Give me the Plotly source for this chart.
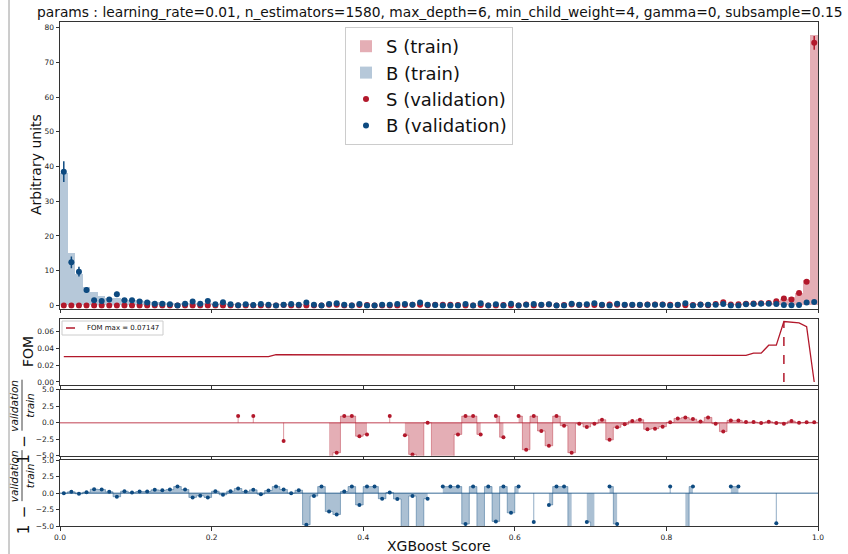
import plotly.graph_objects as go

# ---------------- data ----------------
bin_edges = [i / 100 for i in range(101)]
bin_centers = [(bin_edges[i] + bin_edges[i + 1]) / 2 for i in range(100)]

s_train = [
    0, 0, 0, 0, 0, 0, 0, 0, 0, 0,
    0, 0, 0, 0, 0, 0, 0, 0, 0, 0,
    0, 0, 0, 0.03, 0, 0.03, 0, 0, 0, 0.03,
    0, 0, 0, 0, 0, 0.02, 0.03, 0.03, 0.03, 0.03,
    0.04, 0, 0, 0.03, 0, 0.04, 0.03, 0.02, 0.05, 0.02,
    0.02, 0.02, 0.04, 0.04, 0.04, 0.04, 0, 0.05, 0.04, 0,
    0.05, 0.05, 0.05, 0.06, 0.05, 0.06, 0.07, 0.05, 0.08, 0.08,
    0.09, 0.10, 0.08, 0.10, 0.12, 0.13, 0.14, 0.13, 0.15, 0.17,
    0.20, 0.22, 0.24, 0.27, 0.30, 0.33, 0.36, 0.38, 0.42, 0.48,
    0.55, 0.62, 0.60, 0.80, 1.15, 1.75, 2.30, 3.60, 7.20, 77.8]

s_val = [
    0, 0, 0, 0, 0, 0, 0, 0, 0, 0,
    0, 0, 0, 0, 0, 0, 0, 0, 0, 0,
    0, 0, 0, 0, 0, 0, 0, 0, 0, 0.11,
    0, 0, 0, 0, 0, 0.16, 0.17, 0, 0, 0.09,
    0.11, 0, 0, 0, 0, 0.12, 0.17, 0.16, 0.05, 0.16,
    0.16, 0.16, 0.11, 0, 0, 0.11, 0, 0, 0.13, 0,
    0, 0.25, 0, 0.14, 0.23, 0, 0.10, 0.28, 0.09, 0.13,
    0.10, 0.06, 0.29, 0.17, 0.15, 0.10, 0.08, 0.26, 0.29, 0.27,
    0.19, 0.08, 0.05, 0.12, 0.24, 0.07, 0.41, 0.89, 0.27, 0.31,
    0.50, 0.56, 0.63, 0.68, 1.20, 2.00, 1.70, 3.60, 6.80, 75.6]

s_err = [
    0, 0, 0, 0, 0, 0, 0, 0, 0, 0,
    0, 0, 0, 0, 0, 0, 0, 0, 0, 0,
    0, 0, 0, 0, 0, 0, 0, 0, 0, 0.1,
    0, 0, 0, 0, 0, 0.1, 0.1, 0, 0, 0.1,
    0.1, 0, 0, 0, 0, 0.1, 0.1, 0.1, 0.05, 0.1,
    0.1, 0.1, 0.1, 0, 0, 0.1, 0, 0, 0.1, 0,
    0, 0.12, 0, 0.1, 0.12, 0, 0.1, 0.13, 0.08, 0.1,
    0.08, 0.06, 0.13, 0.1, 0.1, 0.08, 0.07, 0.12, 0.13, 0.12,
    0.1, 0.07, 0.05, 0.08, 0.12, 0.07, 0.15, 0.22, 0.12, 0.13,
    0.16, 0.17, 0.18, 0.19, 0.26, 0.35, 0.3, 0.45, 0.65, 2.0]

b_train = [
    38.0, 15.2, 8.9, 5.2, 4.0, 2.7, 2.2, 2.0, 1.9, 1.6,
    1.5, 1.2, 1.0, 0.9, 0.8, 0.75, 0.7, 0.65, 0.55, 0.8,
    0.45, 0.7, 0.45, 0.35, 0.4, 0.3, 0.35, 0.33, 0.3, 0.35,
    0.4, 0.3, 0.14, 0.14, 0.2, 0.1, 0.14, 0.25, 0.2, 0.14,
    0.15, 0.15, 0.11, 0.2, 0.2, 0.05, 0.14, 0.1, 0.11, 0,
    0.1, 0.1, 0.1, 0.07, 0.1, 0.075, 0.1, 0.065, 0.1, 0.11,
    0.1, 0, 0.075, 0, 0.11, 0.1, 0.1, 0.06, 0, 0.065,
    0.075, 0, 0.08, 0.08, 0, 0, 0, 0, 0, 0,
    0.05, 0, 0.075, 0.05, 0, 0, 0, 0, 0.05, 0.05,
    0, 0, 0, 0, 0.07, 0, 0, 0, 0, 0]

b_val = [
    38.5, 12.4, 9.7, 4.4, 1.5, 1.3, 1.7, 3.2, 1.5, 1.5,
    1.1, 0.8, 0.5, 0.5, 0.35, 0, 0.45, 1.1, 0.5, 1.3,
    0.3, 0.9, 0.3, 0.05, 0.3, 0.15, 0.4, 0.2, 0, 0.2,
    0.4, 0.2, 0.8, 0.2, 0, 0.4, 0.6, 0.2, 0, 0.4,
    0, 0, 0.2, 0.2, 0.4, 0.4, 0.2, 0.8, 0.2, 0.1,
    0, 0, 0, 0.4, 0, 0.6, 0, 0.35, 0, 0.45,
    0, 0.2, 0.4, 0.2, 0.3, 0, 0, 0.5, 0.2, 0.35,
    0.6, 0.2, 0, 0.45, 0.2, 0.2, 0.2, 0.2, 0.2, 0.2,
    0, 0.2, 0.6, 0, 0.2, 0.2, 0.2, 0.4, 0, 0,
    0.3, 0.4, 0.5, 0.5, 0.4, 0.1, 0.05, 0.1, 0.8, 1.0]

b_err = [
    3.0, 1.7, 1.4, 0.8, 0.5, 0.45, 0.5, 0.7, 0.5, 0.5,
    0.4, 0.35, 0.3, 0.3, 0.25, 0, 0.25, 0.4, 0.25, 0.4,
    0.2, 0.35, 0.2, 0.1, 0.2, 0.15, 0.2, 0.15, 0, 0.15,
    0.2, 0.15, 0.3, 0.15, 0, 0.2, 0.25, 0.15, 0, 0.2,
    0, 0, 0.15, 0.15, 0.2, 0.2, 0.15, 0.3, 0.15, 0.1,
    0, 0, 0, 0.2, 0, 0.25, 0, 0.2, 0, 0.2,
    0, 0.15, 0.2, 0.15, 0.2, 0, 0, 0.2, 0.15, 0.2,
    0.25, 0.15, 0, 0.2, 0.15, 0.15, 0.15, 0.15, 0.15, 0.15,
    0, 0.15, 0.25, 0, 0.15, 0.15, 0.15, 0.2, 0, 0,
    0.2, 0.2, 0.2, 0.2, 0.2, 0.1, 0.05, 0.1, 0.3, 0.3]

fom = [
    0.030, 0.030, 0.030, 0.030, 0.030, 0.030, 0.030, 0.030, 0.030, 0.030,
    0.030, 0.030, 0.030, 0.030, 0.030, 0.030, 0.030, 0.030, 0.030, 0.030,
    0.030, 0.030, 0.030, 0.030, 0.030, 0.030, 0.030, 0.030, 0.0322, 0.0322,
    0.0322, 0.0322, 0.0322, 0.0322, 0.0322, 0.0322, 0.0322, 0.0322, 0.0322, 0.0322,
    0.0322, 0.0319, 0.0319, 0.0319, 0.0319, 0.0319, 0.0319, 0.0319, 0.0319, 0.0319,
    0.0319, 0.0319, 0.0319, 0.0319, 0.0319, 0.0319, 0.0319, 0.0319, 0.0319, 0.0319,
    0.0318, 0.0318, 0.0318, 0.0318, 0.0318, 0.0318, 0.0318, 0.0318, 0.0318, 0.0318,
    0.0317, 0.0317, 0.0317, 0.0317, 0.0317, 0.0317, 0.0317, 0.0317, 0.0317, 0.0317,
    0.0315, 0.0315, 0.0315, 0.0315, 0.0315, 0.0315, 0.0315, 0.0315, 0.0315, 0.0315,
    0.0314, 0.0340, 0.0340, 0.0435, 0.0435, 0.07147, 0.0707, 0.0698, 0.0655, 0.0]

s_ratio = [
    None, None, None, None, None, None, None, None, None, None,
    None, None, None, None, None, None, None, None, None, None,
    None, None, None, 1.0, None, 1.0, None, None, None, -2.78,
    None, None, None, None, None, -7.0, -4.55, 1.0, 1.0, -2.05,
    -1.77, None, None, 1.0, None, -1.9, -4.8, -7.0, 0.0, -7.0,
    -7.0, -7.0, -1.77, 1.0, 1.0, -1.77, None, 1.0, -2.2, None,
    1.0, -4.1, 1.0, -1.26, -3.5, 1.0, -0.45, -4.55, -0.15, -0.65,
    -0.15, 0.45, -2.6, -0.7, -0.25, 0.25, 0.45, -1.0, -0.9, -0.6,
    0.05, 0.65, 0.8, 0.55, 0.2, 0.8, -0.15, -1.35, 0.35, 0.35,
    0.1, 0.1, -0.05, 0.15, -0.05, -0.15, 0.25, 0.0, 0.05, 0.05]

b_ratio = [
    0.0, 0.2, -0.1, 0.15, 0.6, 0.55, 0.2, -0.55, 0.3, 0.1,
    0.25, 0.25, 0.5, 0.45, 0.55, 1.0, 0.55, -0.65, -0.4, -0.65,
    0.3, -0.25, 0.3, 0.7, 0.25, 0.5, -0.15, 0.4, 1.0, 0.55,
    0.0, 0.45, -4.8, -0.45, 1.0, -2.8, -3.25, 0.25, 1.0, -1.8,
    1.0, 1.0, -0.85, 0.1, -0.9, -7.0, -0.45, -7.0, -0.85, None,
    1.0, 1.0, 1.0, -4.7, 1.0, -7.0, 1.0, -4.3, 1.0, -3.0,
    1.0, None, -4.4, None, -1.8, 1.0, 1.0, -7.0, None, -4.4,
    -7.0, None, 1.0, -4.7, None, None, None, None, None, None,
    1.0, None, -7.0, 1.0, None, None, None, None, 1.0, 1.0,
    None, None, None, None, -4.6, None, None, None, None, None]

title_text = ("params : learning_rate=0.01, n_estimators=1580, max_depth=6, "
              "min_child_weight=4, gamma=0, subsample=0.15")
x_ticks = [0.0, 0.2, 0.4, 0.6, 0.8, 1.0]

# ---------------- style / layout helpers ----------------
S_COL = (178, 24, 43)
B_COL = (13, 74, 128)


def rgba(c, a):
    return "rgba(%d,%d,%d,%s)" % (c[0], c[1], c[2], a)


W, H = 848, 554
L, R, T, B = 60, 30, 22, 28
PW, PH = W - L - R, H - T - B


def fx(px):
    return (px - L) / PW


def fy(py):
    return (H - B - py) / PH


FONT = "DejaVu Sans"

fig = go.Figure()

# ---------------- main panel ----------------
fig.add_trace(go.Bar(x=bin_centers, y=s_train, width=0.01, name="S (train)",
                     marker=dict(color=rgba(S_COL, 0.35), line=dict(width=0)),
                     xaxis="x", yaxis="y"))
fig.add_trace(go.Bar(x=bin_centers, y=b_train, width=0.01, name="B (train)",
                     marker=dict(color=rgba(B_COL, 0.3), line=dict(width=0)),
                     xaxis="x", yaxis="y"))
fig.add_trace(go.Scatter(x=bin_centers, y=s_val, mode="markers", name="S (validation)",
                         marker=dict(color=rgba(S_COL, 1), size=6),
                         error_y=dict(type="data", array=s_err, color=rgba(S_COL, 1),
                                      thickness=1.5, width=0),
                         xaxis="x", yaxis="y"))
fig.add_trace(go.Scatter(x=bin_centers, y=b_val, mode="markers", name="B (validation)",
                         marker=dict(color=rgba(B_COL, 1), size=6),
                         error_y=dict(type="data", array=b_err, color=rgba(B_COL, 1),
                                      thickness=1.5, width=0),
                         xaxis="x", yaxis="y"))

# ---------------- FOM panel ----------------
fig.add_trace(go.Scatter(x=bin_centers, y=fom, mode="lines", showlegend=False,
                         line=dict(color=rgba(S_COL, 1), width=1.3),
                         xaxis="x2", yaxis="y2"))
imax = max(range(len(fom)), key=lambda i: fom[i])
fom_label = "FOM max = %.5f" % fom[imax]
fig.add_trace(go.Scatter(x=[bin_centers[imax], bin_centers[imax]], y=[0, fom[imax]],
                         mode="lines", name=fom_label, showlegend=False,
                         line=dict(color=rgba(S_COL, 1), width=1.5, dash="dash"),
                         xaxis="x2", yaxis="y2"))


# ---------------- ratio panels ----------------
def add_ratio(vals, col, xa, ya):
    fig.add_trace(go.Scatter(x=[bin_edges[0], bin_edges[-1]], y=[0, 0], mode="lines",
                             showlegend=False, line=dict(color=rgba(col, 0.55), width=1.5),
                             xaxis=xa, yaxis=ya, hoverinfo="skip"))
    runs, cur = [], []
    for i, v in enumerate(vals):
        if v is None:
            if cur:
                runs.append(cur)
            cur = []
        else:
            cur.append(i)
    if cur:
        runs.append(cur)
    for run in runs:
        xs = [bin_centers[i] for i in run]
        ys = [vals[i] for i in run]
        if len(run) == 1:
            fig.add_trace(go.Scatter(x=[xs[0], xs[0]], y=[0, ys[0]], mode="lines",
                                     showlegend=False,
                                     line=dict(color=rgba(col, 0.45), width=1),
                                     xaxis=xa, yaxis=ya))
        else:
            fig.add_trace(go.Scatter(x=xs, y=ys, mode="lines", showlegend=False,
                                     line=dict(color=rgba(col, 0.4), width=1, shape="hvh"),
                                     fill="tozeroy", fillcolor=rgba(col, 0.35),
                                     xaxis=xa, yaxis=ya))
    fig.add_trace(go.Scatter(x=bin_centers, y=vals, mode="markers", showlegend=False,
                             marker=dict(color=rgba(col, 1), size=4),
                             xaxis=xa, yaxis=ya))


add_ratio(s_ratio, S_COL, "x3", "y3")
add_ratio(b_ratio, B_COL, "x4", "y4")

# ---------------- axes ----------------
common = dict(showline=True, linecolor="#333333", linewidth=1, mirror=True,
              ticks="outside", ticklen=3.5, tickwidth=0.8, tickcolor="#333333",
              showgrid=False, zeroline=False,
              tickfont=dict(size=7.5, color="#222222", family=FONT))

xcommon = dict(common, range=[0, 1], tickvals=x_ticks)

dom_main = [fy(308.7), 1.0]
dom_fom = [fy(385.0), fy(318.5)]
dom_r1 = [fy(455.7), fy(389.7)]
dom_r2 = [0.0, fy(460.3)]

fig.update_layout(
    width=W, height=H,
    margin=dict(l=L, r=R, t=T, b=B),
    paper_bgcolor="white", plot_bgcolor="white",
    font=dict(family=FONT, color="#111111"),
    barmode="overlay", bargap=0,
    xaxis=dict(xcommon, domain=[0, 1], anchor="y", showticklabels=False, matches="x4"),
    xaxis2=dict(xcommon, domain=[0, 1], anchor="y2", showticklabels=False, matches="x4"),
    xaxis3=dict(xcommon, domain=[0, 1], anchor="y3", showticklabels=False, matches="x4"),
    xaxis4=dict(xcommon, domain=[0, 1], anchor="y4", tickformat=".1f"),
    yaxis=dict(common, domain=dom_main, anchor="x", range=[-0.95, 81.6],
               tickvals=[0, 10, 20, 30, 40, 50, 60, 70, 80]),
    yaxis2=dict(common, domain=dom_fom, anchor="x2", range=[-0.003574, 0.075044],
                tickvals=[0.0, 0.02, 0.04, 0.06], tickformat=".2f"),
    yaxis3=dict(common, domain=dom_r1, anchor="x3", range=[-5, 5],
                tickvals=[-5, -2.5, 0, 2.5, 5], tickformat=".1f"),
    yaxis4=dict(common, domain=dom_r2, anchor="x4", range=[-5, 5],
                tickvals=[-5, -2.5, 0, 2.5, 5], tickformat=".1f"),
    legend=dict(x=fx(345), y=fy(27), xanchor="left", yanchor="top",
                font=dict(size=18, family=FONT, color="#111111"),
                bgcolor="rgba(255,255,255,0.85)", bordercolor="#cccccc", borderwidth=1,
                traceorder="normal", itemwidth=30),
    showlegend=True,
)

ann = []
ann.append(dict(text=title_text, x=0.5, y=fy(12), xref="paper", yref="paper",
                xanchor="center", yanchor="middle", showarrow=False,
                font=dict(size=13.8, family=FONT, color="#111111")))
ann.append(dict(text="Arbitrary units", x=fx(36), y=fy(165), xref="paper", yref="paper",
                textangle=-90, xanchor="center", yanchor="middle", showarrow=False,
                font=dict(size=14, family=FONT, color="#111111")))
ann.append(dict(text="FOM", x=fx(28), y=fy(352), xref="paper", yref="paper",
                textangle=-90, xanchor="center", yanchor="middle", showarrow=False,
                font=dict(size=14, family=FONT, color="#111111")))
ann.append(dict(text="XGBoost Score", x=0.5, y=fy(546), xref="paper", yref="paper",
                xanchor="center", yanchor="middle", showarrow=False,
                font=dict(size=14, family=FONT, color="#111111")))

shapes = []
for yc in [(389.7 + 455.7) / 2, (460.3 + 526) / 2]:
    ann.append(dict(text="1", x=fx(24), y=fy(yc + 36), xref="paper", yref="paper",
                    textangle=-90, xanchor="center", yanchor="middle", showarrow=False,
                    font=dict(size=15, family=FONT, color="#111111")))
    ann.append(dict(text="\u2212", x=fx(24), y=fy(yc + 19), xref="paper", yref="paper",
                    textangle=-90, xanchor="center", yanchor="middle", showarrow=False,
                    font=dict(size=15, family=FONT, color="#111111")))
    ann.append(dict(text="<i>validation</i>", x=fx(14), y=fy(yc - 17), xref="paper",
                    yref="paper", textangle=-90, xanchor="center", yanchor="middle",
                    showarrow=False, font=dict(size=10.5, family=FONT, color="#111111")))
    ann.append(dict(text="<i>train</i>", x=fx(30), y=fy(yc - 17), xref="paper",
                    yref="paper", textangle=-90, xanchor="center", yanchor="middle",
                    showarrow=False, font=dict(size=10.5, family=FONT, color="#111111")))
    shapes.append(dict(type="line", xref="paper", yref="paper",
                       x0=fx(22), x1=fx(22), y0=fy(yc - 43), y1=fy(yc + 8),
                       line=dict(color="#111111", width=0.8)))

# FOM legend box (drawn manually to match the compact matplotlib legend)
shapes.append(dict(type="rect", xref="paper", yref="paper",
                   x0=fx(62), x1=fx(163), y0=fy(335), y1=fy(321),
                   fillcolor="rgba(255,255,255,0.85)", line=dict(color="#cccccc", width=1),
                   layer="above"))
shapes.append(dict(type="line", xref="paper", yref="paper",
                   x0=fx(66), x1=fx(80), y0=fy(328), y1=fy(328),
                   line=dict(color=rgba(S_COL, 1), width=1.5, dash="dash"),
                   layer="above"))
ann.append(dict(text=fom_label, x=fx(85), y=fy(328), xref="paper", yref="paper",
                xanchor="left", yanchor="middle", showarrow=False,
                font=dict(size=7, family=FONT, color="#111111")))

shapes.append(dict(type="line", xref="paper", yref="paper",
                   x0=fx(9), x1=fx(9), y0=fy(H), y1=fy(0),
                   line=dict(color="#9a9a9a", width=1)))

fig.update_layout(annotations=ann, shapes=shapes)

fig.write_html("out.html")
